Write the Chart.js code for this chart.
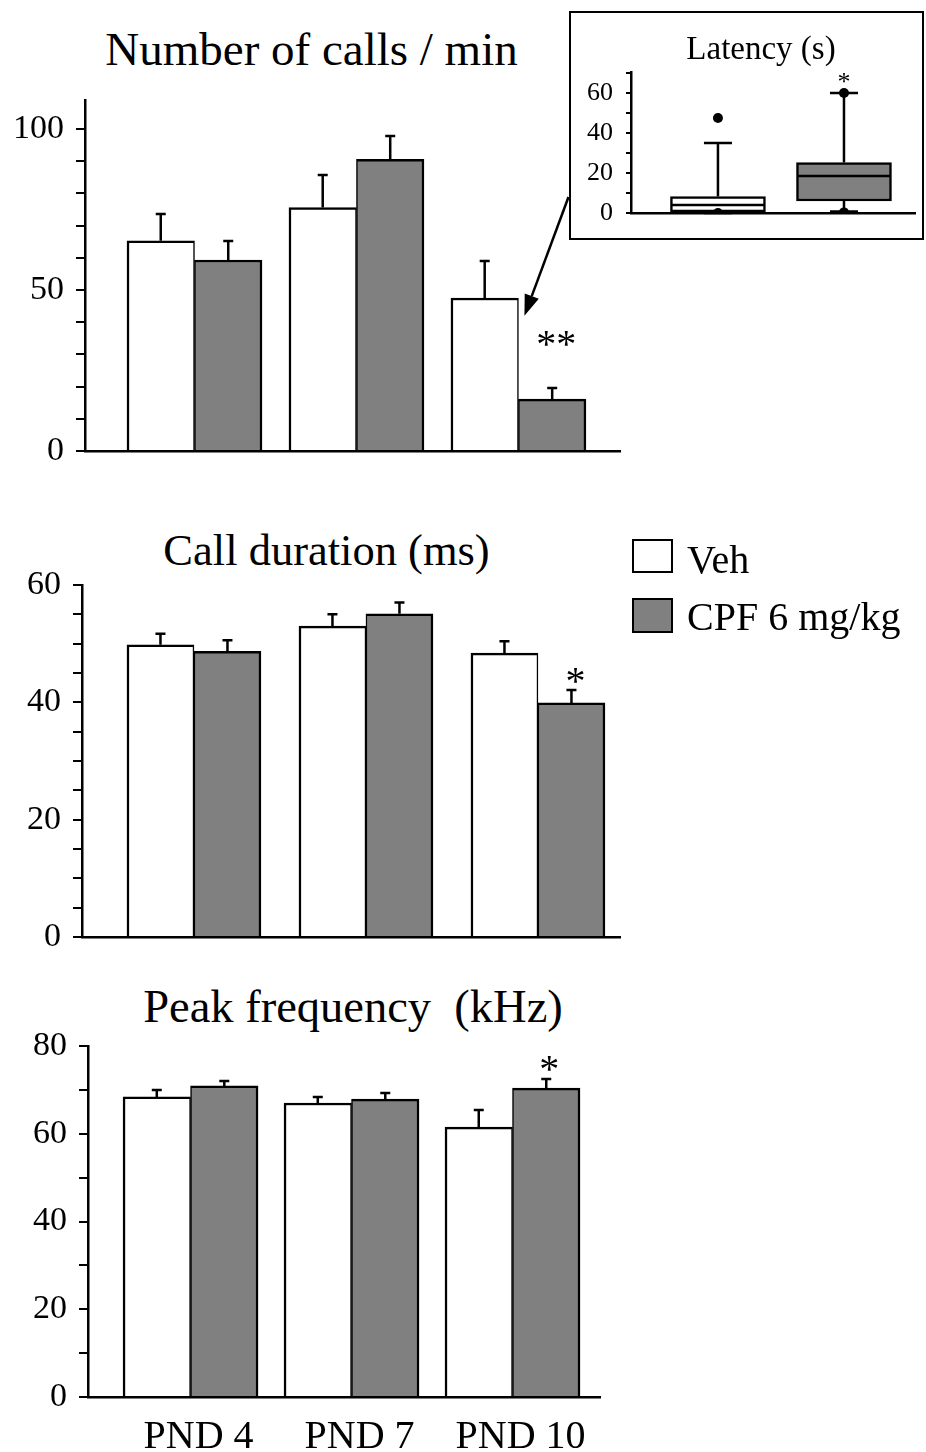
<!DOCTYPE html>
<html>
<head>
<meta charset="utf-8">
<script src="https://cdn.jsdelivr.net/npm/chart.js@4.4.1/dist/chart.umd.min.js"></script>
<style>
html,body{margin:0;padding:0;background:#fff;}
body{width:926px;height:1452px;position:relative;overflow:hidden;font-family:'Liberation Serif','Times New Roman',Times,serif;color:#000;}
canvas{position:absolute;}
.t{position:absolute;white-space:nowrap;line-height:1;transform:translateX(-50%);}
.l{position:absolute;white-space:nowrap;line-height:1;}
.sw{position:absolute;box-sizing:border-box;border:2px solid #000;}
#inset{position:absolute;left:569px;top:11px;width:355px;height:229px;box-sizing:border-box;border:2.5px solid #000;}
</style>
</head>
<body>
<div class="t" style="left:311.5px;top:25.6px;font-size:47px">Number of calls / min</div>
<div class="t" style="left:326.5px;top:527.7px;font-size:44.5px">Call duration (ms)</div>
<div class="t" style="left:353px;top:984.1px;font-size:46.5px">Peak frequency&nbsp; (kHz)</div>

<canvas id="c1" width="640" height="440" style="left:0;top:60px"></canvas>
<canvas id="c2" width="640" height="440" style="left:0;top:545px"></canvas>
<canvas id="c3" width="640" height="452" style="left:0;top:1000px"></canvas>

<div id="inset"></div>
<div class="t" style="left:761px;top:32.4px;font-size:33px">Latency (s)</div>
<canvas id="c4" width="349" height="212" style="left:572px;top:30px"></canvas>

<div class="sw" id="sw0" style="left:632px;top:539px;width:41px;height:34px;"></div>
<div class="sw" id="sw1" style="left:632px;top:598px;width:41px;height:35px;"></div>
<div class="l" id="lg0" style="left:687px;top:539.5px;font-size:40px"></div>
<div class="l" id="lg1" style="left:687px;top:596.5px;font-size:40px"></div>

<script>
const FONT = "'Liberation Serif','Times New Roman',Times,serif";

// ---------- data ----------
const categories = ['PND 4', 'PND 7', 'PND 10'];
const seriesNames = ['Veh', 'CPF 6 mg/kg'];
const seriesColors = ['#ffffff', '#808080'];

const callsVeh = [65.3, 75.6, 47.5];
const callsCpf = [59.3, 90.6, 16.1];
const callsVehSem = [8.3, 10.1, 11.5];
const callsCpfSem = [5.9, 7.2, 3.5];
const callsSig = ['', '', '**'];
const callsTicks = [0, 50, 100];

const durVeh = [49.8, 53.0, 48.4];
const durCpf = [48.7, 55.1, 39.9];
const durVehSem = [1.9, 2.0, 2.0];
const durCpfSem = [1.9, 1.9, 2.2];
const durSig = ['', '', '*'];
const durTicks = [0, 20, 40, 60];

const freqVeh = [68.4, 67.0, 61.5];
const freqCpf = [70.9, 67.9, 70.4];
const freqVehSem = [1.6, 1.4, 3.9];
const freqCpfSem = [1.1, 1.4, 2.1];
const freqSig = ['', '', '*'];
const freqTicks = [0, 20, 40, 60, 80];

const latGroups = ['Veh', 'CPF 6 mg/kg'];
const latQ1 = [0.6, 6.0];
const latMedian = [4.0, 18.5];
const latQ3 = [8.2, 25.2];
const latLow = [0, 0.7];
const latHigh = [35, 60];
const latDotGroup = [0, 0, 1, 1];
const latDotValue = [47.5, 0, 60, 0.3];
const latSig = ['', '*'];
const latTicks = [0, 20, 40, 60];

// ---------- legend ----------
document.getElementById('sw0').style.background = seriesColors[0];
document.getElementById('sw1').style.background = seriesColors[1];
document.getElementById('lg0').textContent = seriesNames[0];
document.getElementById('lg1').textContent = seriesNames[1];

Chart.defaults.font.family = FONT;
Chart.defaults.color = '#000';

const LW = 2.5;

// ---------- plugins ----------
const annotPlugin = {
  id: 'annot',
  afterDatasetsDraw(chart, args, o) {
    const ctx = chart.ctx, ys = chart.scales.y;
    ctx.save();
    ctx.strokeStyle = '#000';
    ctx.lineWidth = LW;
    chart.data.datasets.forEach((d, di) => {
      if (!d.sem) return;
      const meta = chart.getDatasetMeta(di);
      meta.data.forEach((bar, k) => {
        const yt = ys.getPixelForValue(d.data[k].y + d.sem[k]);
        ctx.beginPath();
        ctx.moveTo(bar.x, bar.y);
        ctx.lineTo(bar.x, yt);
        ctx.moveTo(bar.x - o.cap / 2, yt);
        ctx.lineTo(bar.x + o.cap / 2, yt);
        ctx.stroke();
      });
    });
    const sd = chart.data.datasets[o.sigDataset];
    const smeta = chart.getDatasetMeta(o.sigDataset);
    ctx.fillStyle = '#000';
    ctx.textAlign = 'center';
    ctx.textBaseline = 'alphabetic';
    ctx.font = o.sigSize + 'px ' + FONT;
    o.sig.forEach((s, k) => {
      if (!s) return;
      const bar = smeta.data[k];
      const yt = ys.getPixelForValue(sd.data[k].y + sd.sem[k]);
      const cy = yt - o.sigGap;
      ctx.fillText(s, bar.x + o.sigDx, cy + 0.47 * o.sigSize);
    });
    if (o.arrow) {
      const a = o.arrow;
      const am = chart.getDatasetMeta(a.dataset);
      const bar = am.data[a.index];
      const tx = bar.x - bar.width / 2 + a.tipDx;
      const ty = ys.getPixelForValue(a.tipValue);
      const fx = a.fromX, fy = a.fromY;
      const dx = tx - fx, dy = ty - fy, len = Math.hypot(dx, dy);
      const ux = dx / len, uy = dy / len;
      const bx = tx - ux * a.head, by = ty - uy * a.head;
      ctx.lineWidth = 2.5;
      ctx.beginPath();
      ctx.moveTo(fx, fy);
      ctx.lineTo(bx, by);
      ctx.stroke();
      ctx.beginPath();
      ctx.moveTo(tx, ty);
      ctx.lineTo(bx - uy * a.half, by + ux * a.half);
      ctx.lineTo(bx + uy * a.half, by - ux * a.half);
      ctx.closePath();
      ctx.fill();
    }
    ctx.restore();
  }
};

function makeBarChart(id, c) {
  const ds = (vals, sem, i) => ({
    label: seriesNames[i],
    data: vals.map((v, k) => ({x: k, y: v})),
    sem: sem,
    backgroundColor: seriesColors[i],
    borderColor: '#000',
    borderWidth: i === 0 ? {top: LW, left: LW, right: 1.5, bottom: 0} : {top: LW, left: 1.5, right: LW, bottom: 0},
    borderSkipped: false,
    barThickness: c.barThickness
  });
  return new Chart(document.getElementById(id), {
    type: 'bar',
    data: { datasets: [ds(c.veh, c.vehSem, 0), ds(c.cpf, c.cpfSem, 1)] },
    plugins: [annotPlugin],
    options: {
      responsive: false,
      animation: false,
      events: [],
      layout: { padding: c.padding },
      plugins: {
        legend: { display: false },
        tooltip: { enabled: false },
        title: { display: false },
        annot: {
          cap: 10, sig: c.sig, sigDataset: 1, sigSize: c.sigSize, sigGap: c.sigGap, sigDx: c.sigDx,
          arrow: c.arrow || null
        }
      },
      scales: {
        x: {
          type: 'linear', min: c.xMin, max: c.xMax, offset: false,
          grid: { display: false, offset: false },
          border: { display: true, color: '#000', width: LW },
          ticks: {
            display: c.showX, color: '#000', font: { size: 40 }, padding: 8, labelOffset: 8,
            maxRotation: 0, autoSkip: false,
            callback: (v) => categories[v] !== undefined ? categories[v] : ''
          },
          afterBuildTicks: (s) => { s.ticks = categories.map((n, i) => ({ value: i })); },
          afterFit: (s) => { s.height = c.xHeight; }
        },
        y: {
          type: 'linear', min: 0, max: c.yMax,
          grid: { display: true, drawOnChartArea: false, drawTicks: true, tickLength: 9, color: '#000', lineWidth: 2 },
          border: { display: true, color: '#000', width: LW },
          ticks: {
            stepSize: c.step, includeBounds: false, autoSkip: false, color: '#000', font: { size: 34 }, padding: 12,
            callback: (v) => c.labels.includes(v) ? String(v) : ''
          },
          afterFit: (s) => { s.width = c.yWidth; }
        }
      }
    }
  });
}

makeBarChart('c1', {
  veh: callsVeh, cpf: callsCpf, vehSem: callsVehSem, cpfSem: callsCpfSem, sig: callsSig,
  labels: callsTicks, yMax: 109, step: 10, xMin: -0.676, xMax: 2.627, barThickness: 67.5,
  yWidth: 85, xHeight: 35, padding: { left: 0, right: 20, top: 40, bottom: 14 },
  showX: false, sigSize: 40, sigGap: 50, sigDx: 4,
  arrow: { dataset: 1, index: 2, tipDx: 6, tipValue: 42, fromX: 568.5 - 0, fromY: 197 - 60, head: 21, half: 7.5 }
});

makeBarChart('c2', {
  veh: durVeh, cpf: durCpf, vehSem: durVehSem, cpfSem: durCpfSem, sig: durSig,
  labels: durTicks, yMax: 60, step: 5, xMin: -0.651, xMax: 2.477, barThickness: 67,
  yWidth: 82, xHeight: 35, padding: { left: 0, right: 20, top: 40, bottom: 13 },
  showX: false, sigSize: 40, sigGap: 15, sigDx: 4
});

makeBarChart('c3', {
  veh: freqVeh, cpf: freqCpf, vehSem: freqVehSem, cpfSem: freqCpfSem, sig: freqSig,
  labels: freqTicks, yMax: 80, step: 10, xMin: -0.637, xMax: 2.5435, barThickness: 67.5,
  yWidth: 88, xHeight: 55, padding: { left: 0, right: 40, top: 46, bottom: 0 },
  showX: true, sigSize: 40, sigGap: 16, sigDx: 3
});

// ---------- inset box plot ----------
const boxPlugin = {
  id: 'boxw',
  afterDatasetsDraw(chart, args, o) {
    const ctx = chart.ctx, ys = chart.scales.y;
    const meta = chart.getDatasetMeta(o.boxDataset);
    ctx.save();
    ctx.strokeStyle = '#000';
    ctx.lineWidth = LW;
    meta.data.forEach((bar, k) => {
      const x = bar.x, hw = bar.width / 2 - 1;
      const pq1 = ys.getPixelForValue(o.q1[k]), pq3 = ys.getPixelForValue(o.q3[k]);
      const pm = ys.getPixelForValue(o.med[k]);
      const pl = ys.getPixelForValue(o.low[k]), ph = ys.getPixelForValue(o.high[k]);
      ctx.beginPath();
      ctx.moveTo(x - hw, pm); ctx.lineTo(x + hw, pm);
      ctx.moveTo(x, pq3); ctx.lineTo(x, ph);
      ctx.moveTo(x - o.cap / 2, ph); ctx.lineTo(x + o.cap / 2, ph);
      ctx.moveTo(x, pq1); ctx.lineTo(x, pl);
      ctx.moveTo(x - o.cap / 2, pl); ctx.lineTo(x + o.cap / 2, pl);
      ctx.stroke();
    });
    ctx.fillStyle = '#000';
    ctx.textAlign = 'center';
    ctx.textBaseline = 'alphabetic';
    ctx.font = o.sigSize + 'px ' + FONT;
    o.sig.forEach((s, k) => {
      if (!s) return;
      const bar = meta.data[k];
      const cy = ys.getPixelForValue(o.high[k]) - o.sigGap;
      ctx.fillText(s, bar.x, cy + 0.47 * o.sigSize);
    });
    ctx.restore();
  }
};

new Chart(document.getElementById('c4'), {
  type: 'bar',
  data: {
    datasets: [
      {
        type: 'scatter', order: 0,
        data: latDotGroup.map((g, k) => ({ x: g, y: latDotValue[k] })),
        pointRadius: 5, pointBackgroundColor: '#000', pointBorderWidth: 0, showLine: false
      },
      {
        type: 'bar', order: 1, label: 'Latency',
        data: latGroups.map((g, k) => ({ x: k, y: [latQ1[k], latQ3[k]] })),
        backgroundColor: seriesColors, borderColor: '#000', borderWidth: LW, borderSkipped: false,
        barThickness: 95
      }
    ]
  },
  plugins: [boxPlugin],
  options: {
    responsive: false,
    animation: false,
    events: [],
    layout: { padding: { left: 0, right: 6, top: 42, bottom: 0 } },
    plugins: {
      legend: { display: false },
      tooltip: { enabled: false },
      boxw: { boxDataset: 1, q1: latQ1, q3: latQ3, med: latMedian, low: latLow, high: latHigh, cap: 28, sig: latSig, sigSize: 26, sigGap: 15 }
    },
    scales: {
      x: {
        type: 'linear', min: -0.69, max: 1.5635, offset: false,
        grid: { display: false, offset: false },
        border: { display: true, color: '#000', width: LW },
        ticks: { display: false },
        afterBuildTicks: (s) => { s.ticks = latGroups.map((n, i) => ({ value: i })); },
        afterFit: (s) => { s.height = 29; }
      },
      y: {
        type: 'linear', min: 0, max: 70.5,
        grid: { display: true, drawOnChartArea: false, drawTicks: true, tickLength: 5, color: '#000', lineWidth: 2 },
        border: { display: true, color: '#000', width: LW },
        ticks: {
          stepSize: 10, includeBounds: false, autoSkip: false, color: '#000', font: { size: 26 }, padding: 13,
          callback: (v) => latTicks.includes(v) ? String(v) : ''
        },
        afterFit: (s) => { s.width = 59; }
      }
    }
  }
});
</script>
</body>
</html>
